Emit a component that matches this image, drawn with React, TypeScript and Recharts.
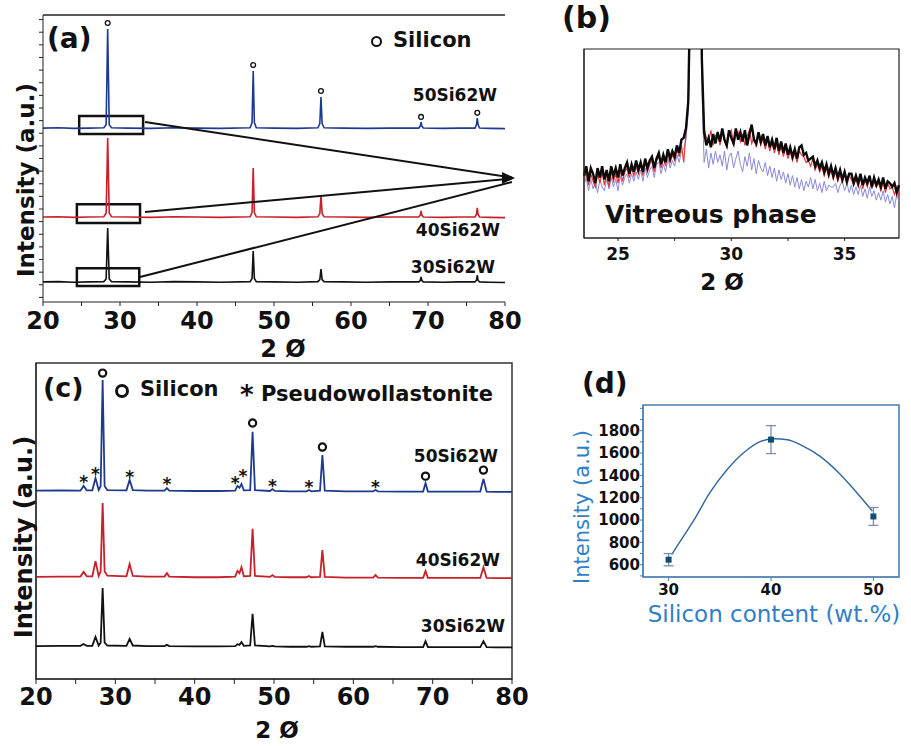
import React from "react";
import {
  ComposedChart,
  Line,
  Scatter,
  XAxis,
  YAxis,
  ReferenceArea,
  ReferenceLine,
  ReferenceDot,
  ErrorBar,
} from "recharts";

const FONT = "'DejaVu Sans', Verdana, sans-serif";
const BLUE = "#1d3a8f";
const RED = "#c8202a";
const BLACK = "#111111";

// ---- panel (a): overview patterns, offset intensities (a.u.)
const xA = [20, 22, 24, 26, 27.9, 28.2, 28.4, 28.6, 28.9, 31, 34, 37, 40, 43, 46.9, 47.15, 47.3, 47.45, 47.7, 50, 53, 55.7, 55.95, 56.1, 56.25, 56.5, 59, 62, 65, 68.8, 69.0, 69.1, 69.2, 69.4, 72, 74, 76.1, 76.3, 76.4, 76.5, 76.7, 78, 80];
const a50 = [606, 607, 605, 606, 607, 618, 951, 618, 607, 606, 605, 607, 606, 605, 607, 625, 805, 625, 607, 606, 605, 607, 622, 714, 622, 607, 606, 605, 606, 606, 613, 627, 613, 606, 605, 606, 606, 618, 641, 618, 606, 605, 604];
const a40 = [296, 297, 295, 296, 297, 310, 571, 310, 297, 296, 295, 297, 296, 295, 297, 312, 467, 312, 297, 296, 295, 297, 308, 373, 308, 297, 296, 295, 296, 296, 303, 317, 303, 296, 295, 296, 296, 306, 328, 306, 296, 295, 294];
const a30 = [70, 71, 69, 70, 71, 80, 258, 80, 71, 70, 69, 71, 70, 69, 71, 82, 178, 82, 71, 70, 69, 71, 78, 115, 78, 71, 70, 69, 70, 70, 75, 87, 75, 70, 69, 70, 70, 76, 94, 76, 70, 69, 68];
const siliconA = [
  { x: 28.4, y: 972 },
  { x: 47.3, y: 826 },
  { x: 56.1, y: 735 },
  { x: 69.1, y: 645 },
  { x: 76.4, y: 659 },
];
const zoomBoxes = [
  { x1: 24.7, x2: 33.0, y1: 585, y2: 648 },
  { x1: 24.4, x2: 32.6, y1: 275, y2: 341 },
  { x1: 24.4, x2: 32.5, y1: 56, y2: 118 },
];
const zoomArrows = [
  [{ x: 33.25, y: 627 }, { x: 80.9, y: 434 }],
  [{ x: 33.25, y: 314 }, { x: 80.9, y: 430 }],
  [{ x: 32.6, y: 87 }, { x: 80.9, y: 418 }],
];
const aYTicks = [16, 60, 104, 148, 192, 236, 280, 324, 368, 412, 456, 500, 544, 588, 632, 676, 720, 764, 808, 852, 896, 940, 984];
const thetaTicks = [20, 25, 30, 35, 40, 45, 50, 55, 60, 65, 70, 75, 80];

// ---- panel (b): zoom on the vitreous hump, 23.5..37.4 every 0.1
const bStart = 23.5;
const bStep = 0.1;
const b30 = [
  33, 38, 30, 37, 34, 29, 37, 32, 38, 31,
  36, 30, 38, 33, 37, 32, 39, 33, 37, 40,
  34, 39, 35, 41, 36, 40, 35, 42, 37, 41,
  43, 37, 42, 45, 39, 44, 40, 47, 42, 46,
  43, 49, 45, 52, 53, 58, 72, 140, 300, 300,
  300, 220, 95, 56, 49, 53, 48, 55, 50, 56,
  51, 58, 52, 49, 57, 53, 50, 58, 52, 56,
  51, 57, 49, 55, 60, 52, 50, 56, 51, 55,
  49, 54, 48, 52, 47, 53, 46, 51, 45, 50,
  44, 48, 43, 47, 42, 48, 49, 44, 45, 41,
  42, 43, 38, 41, 37, 40, 35, 39, 34, 38,
  33, 37, 32, 36, 31, 35, 30, 34, 34, 29,
  33, 29, 34, 28, 32, 29, 33, 27, 32, 28,
  31, 27, 32, 26, 30, 29, 27, 29, 24, 28,
];
const b40 = [
  31, 35, 28, 34, 30, 27, 34, 29, 35, 28,
  34, 27, 35, 30, 34, 29, 36, 30, 35, 37,
  32, 37, 33, 38, 34, 39, 33, 40, 35, 39,
  41, 35, 41, 43, 37, 42, 38, 45, 40, 44,
  41, 47, 43, 49, 40, 56, 70, 135, 300, 300,
  300, 210, 90, 58, 53, 51, 57, 49, 54, 56,
  49, 56, 51, 48, 55, 57, 49, 54, 56, 51,
  55, 49, 54, 57, 50, 53, 48, 54, 49, 53,
  47, 52, 46, 51, 45, 50, 44, 49, 43, 48,
  42, 46, 41, 45, 40, 46, 44, 43, 40, 41,
  38, 42, 36, 39, 35, 38, 33, 37, 32, 36,
  31, 35, 30, 34, 29, 34, 28, 33, 31, 28,
  31, 27, 32, 26, 31, 27, 32, 26, 30, 27,
  29, 25, 30, 24, 29, 26, 27, 23, 27, 22,
];
const b50 = [
  28, 32, 25, 31, 26, 30, 24, 31, 27, 25,
  31, 26, 32, 27, 31, 25, 33, 28, 32, 34,
  29, 34, 30, 35, 31, 36, 30, 37, 32, 36,
  38, 32, 39, 40, 34, 39, 35, 42, 37, 41,
  38, 44, 40, 46, 47, 52, 66, 130, 300, 300,
  300, 200, 80, 40, 47, 37, 45, 39, 46, 40,
  44, 38, 46, 36, 43, 45, 37, 42, 46, 39,
  35, 43, 38, 45, 36, 42, 34, 41, 37, 35,
  40, 33, 38, 32, 37, 30, 36, 31, 35, 29,
  34, 28, 33, 27, 32, 26, 31, 25, 30, 27,
  32, 26, 31, 25, 29, 24, 30, 25, 28, 27,
  27, 29, 24, 28, 30, 25, 29, 24, 28, 23,
  27, 23, 28, 22, 26, 21, 27, 22, 25, 20,
  24, 20, 25, 19, 23, 18, 22, 16, 23, 19,
];

// ---- panel (c): patterns with pseudowollastonite reflections
const xC = [20, 23, 25.6, 26.0, 26.4, 27.1, 27.5, 27.9, 28.15, 28.4, 28.65, 29.0, 31.4, 31.8, 32.2, 34, 36.2, 36.5, 36.8, 40, 43, 45.1, 45.4, 45.65, 45.9, 46.2, 47.0, 47.3, 47.6, 49.5, 49.8, 50.1, 52, 54.1, 54.4, 54.7, 55.8, 56.1, 56.4, 59, 62.5, 62.8, 63.1, 66, 68.8, 69.1, 69.4, 72, 76.0, 76.4, 76.8, 78, 80];
const c50 = [596, 597, 596, 611, 597, 597, 636, 598, 610, 946, 610, 598, 597, 630, 598, 596, 596, 604, 596, 595, 595, 596, 611, 605, 617, 597, 598, 782, 598, 595, 601, 595, 594, 594, 598, 594, 596, 709, 596, 594, 594, 598, 594, 593, 593, 620, 593, 593, 593, 633, 593, 592, 592];
const c40 = [323, 324, 324, 339, 325, 325, 373, 326, 340, 557, 340, 327, 325, 364, 326, 324, 324, 335, 324, 322, 322, 324, 342, 335, 354, 325, 326, 475, 326, 323, 329, 323, 322, 322, 326, 322, 323, 408, 323, 321, 321, 329, 321, 320, 320, 342, 320, 320, 320, 354, 320, 319, 319];
const c30 = [104, 105, 105, 111, 105, 105, 133, 106, 115, 288, 115, 106, 105, 127, 106, 104, 104, 108, 104, 103, 103, 104, 110, 108, 117, 105, 106, 206, 106, 103, 105, 103, 102, 102, 104, 102, 103, 149, 103, 102, 102, 104, 102, 101, 101, 120, 101, 101, 101, 120, 101, 100, 100];
const phaseMarks = [
  { x: 28.4, y: 968, m: "o" },
  { x: 47.3, y: 810, m: "o" },
  { x: 56.1, y: 734, m: "o" },
  { x: 69.1, y: 642, m: "o" },
  { x: 76.4, y: 661, m: "o" },
  { x: 26.0, y: 636, m: "*" },
  { x: 27.5, y: 661, m: "*" },
  { x: 31.8, y: 652, m: "*" },
  { x: 36.5, y: 630, m: "*" },
  { x: 45.1, y: 634, m: "*" },
  { x: 46.1, y: 654, m: "*" },
  { x: 49.8, y: 623, m: "*" },
  { x: 54.4, y: 620, m: "*" },
  { x: 62.8, y: 620, m: "*" },
];

// ---- panel (d): vitreous intensity vs silicon content
const siContent = [30, 40, 50];
const peakIntensity = [645, 1720, 1032];
const intensityErr = [55, 125, 80];
const fitX = [30.3, 31, 32.5, 34, 35.7, 37.3, 39, 40.3, 41.6, 42.9, 44.8, 46.8, 48.7, 49.9];
const fitY = [690, 790, 1003, 1240, 1450, 1600, 1704, 1728, 1719, 1674, 1570, 1406, 1211, 1080];
const dYTicks = [500, 600, 700, 800, 900, 1000, 1100, 1200, 1300, 1400, 1500, 1600, 1700, 1800, 1900, 2000];

type TxtProps = {
  x: number;
  base: number;
  size: number;
  children: React.ReactNode;
  weight?: number;
  color?: string;
  align?: "left" | "right" | "center";
};

function Txt({ x, base, size, children, weight = 700, color = "#111", align = "left" }: TxtProps) {
  const style: React.CSSProperties = {
    position: "absolute",
    top: base - 0.846 * size,
    fontSize: size,
    lineHeight: 1,
    fontWeight: weight,
    color,
    whiteSpace: "nowrap",
    fontFamily: FONT,
  };
  if (align === "right") style.right = 911 - x;
  else if (align === "center") {
    style.left = x;
    style.transform = "translateX(-50%)";
  } else style.left = x;
  return <div style={style}>{children}</div>;
}

function VTxt({ cx, cy, size, children, weight = 700, color = "#111" }: any) {
  return (
    <div
      style={{
        position: "absolute",
        left: cx,
        top: cy,
        transform: "translate(-50%,-50%) rotate(-90deg)",
        fontSize: size,
        lineHeight: 1,
        fontWeight: weight,
        color,
        whiteSpace: "nowrap",
        fontFamily: FONT,
      }}
    >
      {children}
    </div>
  );
}

function Ring({ cx, cy, d, w }: { cx: number; cy: number; d: number; w: number }) {
  return (
    <div
      style={{
        position: "absolute",
        left: cx - d / 2,
        top: cy - d / 2,
        width: d - 2 * w,
        height: d - 2 * w,
        border: `${w}px solid #111`,
        borderRadius: "50%",
      }}
    />
  );
}

const tenOnly = (v: number) => (v % 10 === 0 ? String(v) : "");

function PanelA() {
  const data = xA.map((x, i) => ({ x, s50: a50[i], s40: a40[i], s30: a30[i] }));
  return (
    <div style={{ position: "absolute", left: 0, top: 0 }}>
      <ComposedChart width={530} height={360} data={data} margin={{ top: 15, right: 25, left: 0, bottom: 0 }}>
        <XAxis
          dataKey="x"
          type="number"
          domain={[20, 80]}
          ticks={thetaTicks}
          interval={0}
          tickFormatter={tenOnly}
          height={58}
          tickSize={4}
          tickMargin={6}
          stroke="#222"
          tick={{ fontSize: 24, fontWeight: 700, fill: "#111", fontFamily: FONT }}
        />
        <YAxis type="number" domain={[0, 1000]} width={43} ticks={aYTicks} interval={0} tickFormatter={() => ""} tickSize={4} stroke="#222" />
        <ReferenceLine y={1000} stroke="#222" strokeWidth={1.5} />
        {zoomBoxes.map((b, i) => (
          <ReferenceArea key={"bx" + i} x1={b.x1} x2={b.x2} y1={b.y1} y2={b.y2} fill="none" stroke="#111" strokeWidth={2.5} />
        ))}
        <Line dataKey="s50" type="linear" stroke={BLUE} strokeWidth={1.6} dot={false} isAnimationActive={false} />
        <Line dataKey="s40" type="linear" stroke={RED} strokeWidth={1.6} dot={false} isAnimationActive={false} />
        <Line dataKey="s30" type="linear" stroke={BLACK} strokeWidth={1.6} dot={false} isAnimationActive={false} />
        {zoomArrows.map((seg, i) => (
          <ReferenceLine key={"ar" + i} segment={seg} stroke="#111" strokeWidth={2} ifOverflow="visible" />
        ))}
        <ReferenceDot
          x={81.3}
          y={432}
          ifOverflow="visible"
          shape={(p: any) => (
            <polygon points={`${p.cx},${p.cy} ${p.cx - 13},${p.cy - 6} ${p.cx - 13},${p.cy + 6}`} fill="#111" />
          )}
        />
        <Scatter
          data={siliconA}
          dataKey="y"
          isAnimationActive={false}
          shape={(p: any) => <circle cx={p.cx} cy={p.cy} r={2.4} fill="#fff" stroke="#111" strokeWidth={1.3} />}
        />
      </ComposedChart>
    </div>
  );
}

function PanelB() {
  const data = b30.map((v, i) => ({
    x: Math.round((bStart + i * bStep) * 10) / 10,
    s50: b50[i],
    s40: b40[i],
    s30: v,
  }));
  return (
    <div style={{ position: "absolute", left: 560, top: 0 }}>
      <ComposedChart width={351} height={300} data={data} margin={{ top: 49, right: 12, left: 0, bottom: 0 }}>
        <XAxis
          dataKey="x"
          type="number"
          domain={[23.5, 37.4]}
          ticks={[25, 27.5, 30, 32.5, 35]}
          interval={0}
          tickFormatter={(v: number) => (v % 5 === 0 ? String(v) : "")}
          height={62}
          tickSize={3}
          tickMargin={7}
          stroke="#222"
          tick={{ fontSize: 17, fontWeight: 700, fill: "#111", fontFamily: FONT }}
        />
        <YAxis type="number" domain={[0, 100]} allowDataOverflow width={24} tick={false} tickLine={false} stroke="#222" />
        <ReferenceArea x1={23.5} x2={37.4} y1={0} y2={100} fill="none" stroke="#222" strokeWidth={1.2} />
        <Line dataKey="s50" type="linear" stroke="#8a8ad8" strokeWidth={1} dot={false} isAnimationActive={false} />
        <Line dataKey="s40" type="linear" stroke="#e8383a" strokeWidth={1.2} dot={false} isAnimationActive={false} />
        <Line dataKey="s30" type="linear" stroke="#0a0a0a" strokeWidth={2.4} dot={false} isAnimationActive={false} />
      </ComposedChart>
    </div>
  );
}

function PanelC() {
  const data = xC.map((x, i) => ({ x, s50: c50[i], s40: c40[i], s30: c30[i] }));
  return (
    <div style={{ position: "absolute", left: 0, top: 350 }}>
      <ComposedChart width={530} height={396} data={data} margin={{ top: 13, right: 18, left: 0, bottom: 0 }}>
        <XAxis
          dataKey="x"
          type="number"
          domain={[20, 80]}
          ticks={thetaTicks}
          interval={0}
          tickFormatter={tenOnly}
          height={67}
          tickSize={5}
          tickMargin={4}
          stroke="#222"
          tick={{ fontSize: 24, fontWeight: 700, fill: "#111", fontFamily: FONT }}
        />
        <YAxis type="number" domain={[0, 1000]} width={36} tick={false} tickLine={false} stroke="#222" />
        <ReferenceArea x1={20} x2={80} y1={0} y2={1000} fill="none" stroke="#333" strokeWidth={1.5} />
        <Line dataKey="s50" type="linear" stroke={BLUE} strokeWidth={1.8} dot={false} isAnimationActive={false} />
        <Line dataKey="s40" type="linear" stroke={RED} strokeWidth={1.8} dot={false} isAnimationActive={false} />
        <Line dataKey="s30" type="linear" stroke={BLACK} strokeWidth={1.8} dot={false} isAnimationActive={false} />
        <Scatter
          data={phaseMarks}
          dataKey="y"
          isAnimationActive={false}
          shape={(p: any) =>
            p.payload.m === "o" ? (
              <circle cx={p.cx} cy={p.cy} r={3.6} fill="none" stroke="#111" strokeWidth={2.2} />
            ) : (
              <text x={p.cx} y={p.cy + 10} textAnchor="middle" fontSize={17} fontWeight={700} fontFamily={FONT} fill="#111">
                *
              </text>
            )
          }
        />
      </ComposedChart>
    </div>
  );
}

function PanelD() {
  const fit = fitX.map((x, i) => ({ x, y: fitY[i] }));
  const pts = siContent.map((x, i) => ({ x, y: peakIntensity[i], err: intensityErr[i] }));
  const axisBlue = "#4a7fb0";
  return (
    <div style={{ position: "absolute", left: 560, top: 360 }}>
      <ComposedChart width={351} height={280} margin={{ top: 45, right: 12, left: 0, bottom: 0 }}>
        <XAxis
          dataKey="x"
          type="number"
          domain={[27.5, 52.5]}
          ticks={[30, 40, 50]}
          interval={0}
          height={63}
          tickSize={4}
          tickMargin={3}
          stroke={axisBlue}
          tick={{ fontSize: 15, fontWeight: 700, fill: "#111", fontFamily: FONT }}
        />
        <YAxis
          type="number"
          domain={[490, 2030]}
          ticks={dYTicks}
          interval={0}
          tickFormatter={(v: number) => (v % 200 === 0 && v >= 600 && v <= 1800 ? String(v) : "")}
          width={83}
          tickSize={3}
          tickMargin={0}
          stroke={axisBlue}
          tick={{ fontSize: 15, fontWeight: 700, fill: "#111", fontFamily: FONT }}
        />
        <ReferenceArea x1={27.5} x2={52.5} y1={490} y2={2030} fill="none" stroke={axisBlue} strokeWidth={1.6} />
        <Line data={fit} dataKey="y" type="monotone" stroke="#2f66a0" strokeWidth={1.4} dot={false} isAnimationActive={false} />
        <Scatter
          data={pts}
          dataKey="y"
          isAnimationActive={false}
          shape={(p: any) => <rect x={p.cx - 3} y={p.cy - 3} width={6} height={6} fill="#0f4f74" />}
        >
          <ErrorBar dataKey="err" direction="y" width={5} stroke="#7d8db0" strokeWidth={1.3} />
        </Scatter>
      </ComposedChart>
    </div>
  );
}

export default function App() {
  const dBlue = "#2f7fc8";
  return (
    <div style={{ position: "absolute", left: 0, top: 0, width: 911, height: 746, background: "#fff", fontFamily: FONT, overflow: "hidden" }}>
      <PanelA />
      <PanelB />
      <PanelC />
      <PanelD />

      {/* panel (a) texts */}
      <Txt x={47} base={49} size={28}>(a)</Txt>
      <Ring cx={377} cy={42} d={12} w={2.5} />
      <Txt x={393} base={48} size={21}>Silicon</Txt>
      <Txt x={497} base={101} size={17} align="right">50Si62W</Txt>
      <Txt x={500} base={236} size={17} align="right">40Si62W</Txt>
      <Txt x={495} base={273} size={17} align="right">30Si62W</Txt>
      <VTxt cx={26} cy={180} size={23}>Intensity (a.u.)</VTxt>
      <Txt x={283} base={357} size={24} align="center">2 Ø</Txt>

      {/* panel (b) texts */}
      <Txt x={562} base={28} size={30}>(b)</Txt>
      <Txt x={605} base={223} size={25}>Vitreous phase</Txt>
      <Txt x={722} base={290} size={23} align="center">2 Ø</Txt>

      {/* panel (c) texts */}
      <Txt x={43} base={397} size={27}>(c)</Txt>
      <Ring cx={122} cy={391} d={14} w={3} />
      <Txt x={140} base={397} size={21}>Silicon</Txt>
      <Txt x={240} base={397} size={21}>
        <span style={{ fontSize: 26, position: "relative", top: 3 }}>*</span> Pseudowollastonite
      </Txt>
      <Txt x={498} base={462} size={17} align="right">50Si62W</Txt>
      <Txt x={500} base={566} size={17} align="right">40Si62W</Txt>
      <Txt x={505} base={632} size={17} align="right">30Si62W</Txt>
      <VTxt cx={24} cy={537} size={24}>Intensity (a.u.)</VTxt>
      <Txt x={277} base={738} size={23} align="center">2 Ø</Txt>

      {/* panel (d) texts */}
      <Txt x={582} base={394} size={28}>(d)</Txt>
      <VTxt cx={582} cy={507} size={21} weight={400} color={dBlue}>Intensity (a.u.)</VTxt>
      <Txt x={774} base={622} size={23} weight={400} color={dBlue} align="center">Silicon content (wt.%)</Txt>
    </div>
  );
}
